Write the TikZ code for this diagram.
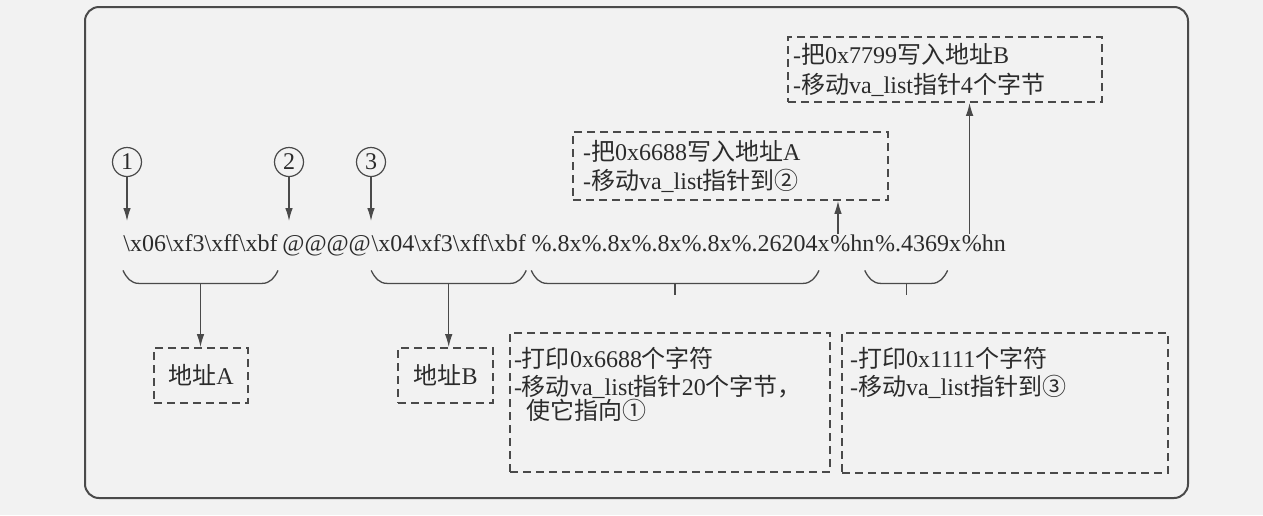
\documentclass[tikz,border=0pt]{standalone}
\usepackage{fontspec}
\setmainfont{Liberation Serif}[Ligatures=NoCommon]
\newfontfamily\cjk{Noto Sans CJK SC}
\newcommand{\zh}[1]{{\cjk #1}}
\usetikzlibrary{positioning,arrows.meta,calc}
\definecolor{lncol}{HTML}{4A4A4A}
\definecolor{txcol}{HTML}{2B2B2B}
\definecolor{bgcol}{HTML}{F2F2F2}
\tikzstyle{sbit}=[inner sep=0pt, text height=8.5pt, text depth=2.5pt,
                  text=txcol, font=\fontsize{12}{14}\selectfont]
\tikzstyle{dbox}=[rectangle, draw=lncol, line width=0.9pt, dash pattern=on 4pt off 2.5pt,
                  text=txcol, font=\fontsize{12}{14.5}\selectfont, align=left, inner sep=0pt]
\tikzstyle{ncirc}=[circle, draw=lncol, line width=0.6pt, minimum size=14.5pt, inner sep=0pt,
                   text=txcol, font=\fontsize{12}{12}\selectfont]
\tikzstyle{pline}=[-, draw=lncol, line width=0.65pt]
\tikzstyle{parrow}=[-{Latex[length=6.5pt,width=3.8pt]}, draw=lncol, line width=0.65pt]
% brace under a part of the string: left point, right point, name of middle point
\newcommand{\strbrace}[3]{%
 \draw[pline] ($(#1)+(0,-7pt)$) to[out=-65,in=180] ($(#1)+(8pt,-13.5pt)$)
   -- ($(#2)+(-8pt,-13.5pt)$) to[out=0,in=-115] ($(#2)+(0,-7pt)$);
 \coordinate (#3) at ($($(#1)+(0,-13.5pt)$)!0.5!($(#2)+(0,-13.5pt)$)$);
}
\begin{document}
\begin{tikzpicture}[x=0.5pt,y=-0.5pt,node distance=0pt]
\fill[bgcol] (0,0) rectangle (1263,515);
\useasboundingbox (0,0) rectangle (1263,515);
\draw[lncol, line width=1pt, rounded corners=7pt] (85,7) rectangle (1188,498);

% the format string
\node (STRA) [sbit, anchor=base west] at (123,251)
  {\textbackslash x06\textbackslash xf3\textbackslash xff\textbackslash xbf};
\node (ATS) [sbit, right=2pt of STRA] {@@@@};
\node (STRB) [sbit, right=0pt of ATS]
  {\textbackslash x04\textbackslash xf3\textbackslash xff\textbackslash xbf};
\node (FMTA) [sbit, right=2.5pt of STRB] {\%.8x\%.8x\%.8x\%.8x\%.26204x};
\node (HNA) [sbit, right=0pt of FMTA] {\%hn};
\node (FMTB) [sbit, right=0pt of HNA] {\%.4369x};
\node (HNB) [sbit, right=0pt of FMTB] {\%hn};

% numbered positions
\coordinate (ARTOP) at (0,221);
\node (CA) [ncirc] at (127,162) {1};
\node (CB) [ncirc] at (289,162) {2};
\node (CC) [ncirc] at (371,162) {3};
 \draw[parrow] (CA) -- (CA |- ARTOP);
 \draw[parrow] (CB) -- (CB |- ARTOP);
 \draw[parrow] (CC) -- (CC |- ARTOP);

% upper boxes
\node (WRA) [dbox, text width=147.5pt, inner xsep=5pt, minimum height=34pt] at (730.5,166)
  {-\zh{把}0x6688\zh{写入地址}A\\-\zh{移动}va\_list\zh{指针到②}};
\node (WRB) [dbox, text width=152pt, inner xsep=2.5pt, minimum height=32.5pt,
  font=\fontsize{12}{15}\selectfont] at (945,69.5)
  {-\zh{把}0x7799\zh{写入地址}B\\-\zh{移动}va\_list\zh{指针}4\zh{个字节}};
\coordinate (HNAP) at ([xshift=4pt]HNA.north west);
\coordinate (HNBP) at ([xshift=4pt]HNB.north west);
 \draw[parrow] (HNAP) -- (HNAP |- WRA.south);
 \draw[parrow] (HNBP) -- (HNBP |- WRB.south);

% braces
\strbrace{STRA.south west}{STRA.south east}{BRA}
\strbrace{STRB.south west}{STRB.south east}{BRB}
\strbrace{FMTA.south west}{[xshift=-5.5pt]FMTA.south east}{BRC}
\strbrace{[xshift=-5pt]FMTB.south west}{[xshift=-7pt]FMTB.south east}{BRD}
 \draw[pline] (BRC) -- ++(0,-6pt);
 \draw[pline] (BRD) -- ++(0,-6pt);

% lower boxes
\node (ADDRA) [dbox, minimum width=47pt, minimum height=27.5pt, align=center] at (201,375.5)
  {\zh{地址}A};
\node (ADDRB) [dbox, minimum width=47.5pt, minimum height=27.5pt, align=center] at (445.5,375.5)
  {\zh{地址}B};
 \draw[parrow] (BRA) -- (BRA |- ADDRA.north);
 \draw[parrow] (BRB) -- (BRB |- ADDRB.north);
\node (PRA) [dbox, inner xsep=2pt, inner ysep=7pt] at (670,402.5)
  {\parbox[c][55.5pt][t]{156pt}{\raggedright\fontsize{12}{12}\selectfont
   -\zh{打印}0x6688\zh{个字符}\\[2pt]-\zh{移动}va\_list\zh{指针}20\zh{个字节，}\\
   \hspace*{6pt}\zh{使它指向①}}};
\node (PRB) [dbox, inner xsep=4pt, inner ysep=7pt] at (1005,403)
  {\parbox[c][56pt][t]{155pt}{\raggedright\fontsize{12}{12}\selectfont
   -\zh{打印}0x1111\zh{个字符}\\[2pt]-\zh{移动}va\_list\zh{指针到③}}};

\end{tikzpicture}
\end{document}
